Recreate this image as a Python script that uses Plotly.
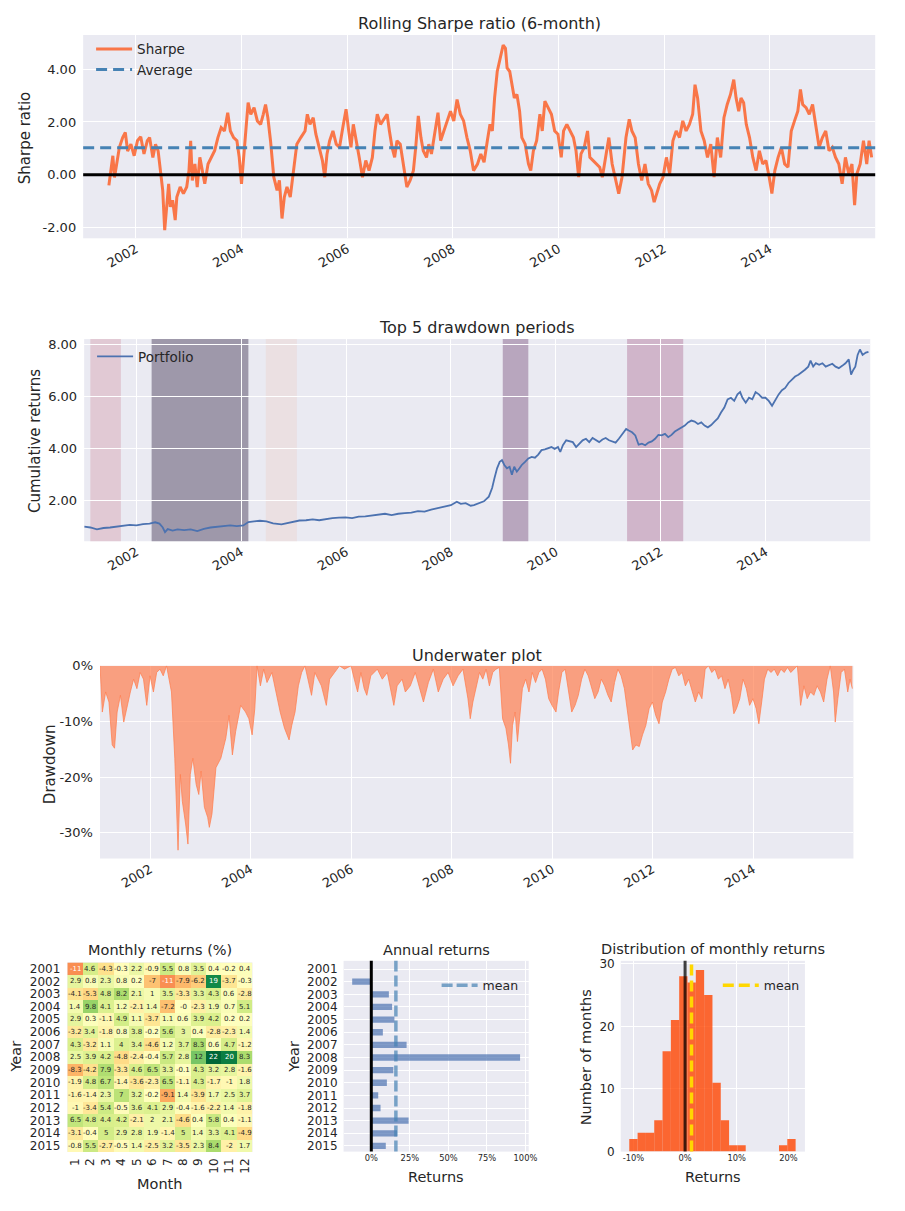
import numpy as np
import pandas as pd
import plotly.graph_objects as go
import plotly.express as px
from plotly.colors import sample_colorscale

W, H = 905, 1211
FONT = "DejaVu Sans"
INK = "#262626"
PANEL = "#EAEAF2"

# ---------------- data ----------------
# rolling 6-month Sharpe ratio: (decimal year, value)
sharpe_points = [
    (2001.490, -0.40), (2001.534, 0.29), (2001.565, 0.72), (2001.596, -0.10), (2001.639, 0.40),
    (2001.689, 1.04), (2001.751, 1.41), (2001.801, 1.60), (2001.845, 0.90), (2001.907, 1.16),
    (2001.969, 0.72), (2002.031, 1.29), (2002.093, 1.44), (2002.155, 0.79), (2002.218, 1.29),
    (2002.261, 1.41), (2002.323, 0.66), (2002.373, 1.16), (2002.423, 0.90), (2002.466, 0.16),
    (2002.510, -0.59), (2002.547, -2.09), (2002.591, -0.84), (2002.622, -0.34), (2002.653, -1.21),
    (2002.697, -0.96), (2002.746, -1.71), (2002.777, -0.84), (2002.840, -0.46), (2002.902, -0.71),
    (2002.964, -0.46), (2003.007, 0.16), (2003.039, 1.29), (2003.070, -0.21), (2003.119, 0.41),
    (2003.163, -0.46), (2003.213, 0.66), (2003.256, 0.16), (2003.306, -0.34), (2003.368, 0.41),
    (2003.430, 0.66), (2003.493, 0.91), (2003.555, 1.41), (2003.617, 1.79), (2003.679, 1.66),
    (2003.741, 2.35), (2003.791, 1.66), (2003.853, 1.41), (2003.915, 1.29), (2003.959, 0.66),
    (2004.002, -0.34), (2004.040, 0.66), (2004.083, 1.91), (2004.127, 2.73), (2004.177, 2.29),
    (2004.239, 2.54), (2004.301, 2.04), (2004.363, 1.91), (2004.413, 2.29), (2004.456, 2.66),
    (2004.500, 2.16), (2004.550, 1.29), (2004.612, -0.09), (2004.674, -0.59), (2004.718, -0.21),
    (2004.767, -1.65), (2004.811, -0.84), (2004.861, -0.46), (2004.923, -0.84), (2004.985, 0.16),
    (2005.047, 1.16), (2005.122, 1.41), (2005.203, 1.66), (2005.246, 2.29), (2005.296, 1.91),
    (2005.358, 2.16), (2005.408, 1.54), (2005.470, 1.04), (2005.532, 0.54), (2005.576, -0.09),
    (2005.619, 0.79), (2005.669, 1.29), (2005.731, 1.66), (2005.794, 1.16), (2005.856, 1.04),
    (2005.918, 1.79), (2005.980, 2.48), (2006.030, 1.66), (2006.073, 1.04), (2006.117, 1.91),
    (2006.167, 1.41), (2006.229, 0.66), (2006.291, -0.09), (2006.353, 0.54), (2006.415, 0.16),
    (2006.478, 0.66), (2006.527, 1.66), (2006.571, 2.29), (2006.633, 1.91), (2006.695, 2.10),
    (2006.757, 2.29), (2006.801, 1.66), (2006.851, 1.04), (2006.900, 0.66), (2006.944, 1.29),
    (2007.006, 1.16), (2007.068, 0.41), (2007.131, -0.46), (2007.193, -0.21), (2007.255, 0.16),
    (2007.299, 1.04), (2007.348, 2.23), (2007.398, 1.41), (2007.442, 0.91), (2007.504, 0.66),
    (2007.547, 1.16), (2007.597, 0.79), (2007.659, 1.66), (2007.721, 2.35), (2007.771, 1.29),
    (2007.833, 1.66), (2007.896, 2.10), (2007.958, 2.41), (2008.020, 2.04), (2008.082, 2.85),
    (2008.144, 2.29), (2008.206, 2.04), (2008.269, 1.41), (2008.331, 0.91), (2008.393, 0.16),
    (2008.468, 0.41), (2008.530, 0.79), (2008.592, 0.48), (2008.654, 1.29), (2008.704, 1.91),
    (2008.748, 1.66), (2008.791, 2.91), (2008.841, 3.91), (2008.903, 4.54), (2008.953, 4.91),
    (2008.996, 4.79), (2009.027, 4.04), (2009.077, 3.91), (2009.121, 3.41), (2009.164, 2.91),
    (2009.214, 3.04), (2009.264, 2.41), (2009.307, 1.41), (2009.369, 1.16), (2009.432, 0.41),
    (2009.475, 0.16), (2009.525, 0.91), (2009.587, 1.29), (2009.649, 2.29), (2009.693, 1.66),
    (2009.743, 2.79), (2009.805, 2.54), (2009.867, 2.29), (2009.929, 1.66), (2009.991, 1.54),
    (2010.053, 0.66), (2010.097, 1.66), (2010.159, 1.91), (2010.221, 1.66), (2010.284, 1.41),
    (2010.333, 0.91), (2010.383, -0.09), (2010.427, 0.79), (2010.489, 1.04), (2010.551, 1.66),
    (2010.595, 0.66), (2010.657, 0.54), (2010.719, 0.41), (2010.781, 0.29), (2010.831, -0.09),
    (2010.893, 0.66), (2010.955, 1.41), (2011.017, 0.41), (2011.080, -0.21), (2011.142, -0.71),
    (2011.204, -0.09), (2011.279, 1.41), (2011.341, 2.10), (2011.391, 1.66), (2011.453, 1.41),
    (2011.515, 0.41), (2011.577, -0.21), (2011.639, 0.41), (2011.701, -0.34), (2011.764, -0.59),
    (2011.813, -1.03), (2011.857, -0.71), (2011.919, -0.34), (2011.981, -0.09), (2012.044, 0.66),
    (2012.106, 0.04), (2012.168, 1.29), (2012.230, 1.66), (2012.292, 1.41), (2012.354, 2.04),
    (2012.417, 1.66), (2012.479, 1.91), (2012.541, 2.29), (2012.585, 3.41), (2012.634, 2.91),
    (2012.697, 1.66), (2012.759, 1.29), (2012.821, 0.66), (2012.883, 1.16), (2012.945, -0.09),
    (2013.007, 1.41), (2013.070, 0.66), (2013.132, 2.16), (2013.194, 2.66), (2013.256, 3.04),
    (2013.318, 3.60), (2013.362, 2.91), (2013.412, 2.41), (2013.455, 2.91), (2013.505, 2.73),
    (2013.555, 1.91), (2013.617, 1.41), (2013.679, 0.66), (2013.741, 0.16), (2013.803, 0.91),
    (2013.866, 0.41), (2013.928, 0.54), (2013.990, -0.09), (2014.040, -0.71), (2014.096, 0.16),
    (2014.158, 0.66), (2014.220, 1.04), (2014.282, 0.41), (2014.345, 0.29), (2014.407, 1.66),
    (2014.469, 2.04), (2014.531, 2.41), (2014.581, 3.23), (2014.624, 2.66), (2014.687, 2.54),
    (2014.749, 2.29), (2014.811, 2.66), (2014.873, 1.91), (2014.935, 1.04), (2014.997, 1.41),
    (2015.060, 1.66), (2015.122, 0.91), (2015.184, 1.04), (2015.246, 0.66), (2015.308, 0.41),
    (2015.371, -0.34), (2015.433, 0.66), (2015.495, 0.04), (2015.557, 0.41), (2015.607, -1.15),
    (2015.650, 0.04), (2015.713, 0.41), (2015.775, 1.29), (2015.837, 0.41), (2015.881, 1.29),
    (2015.930, 0.66),
]
sharpe_average = 1.02

# cumulative returns of the portfolio: (decimal year, value)
cumulative_points = [
    (2001.005, 0.99), (2001.121, 0.96), (2001.246, 0.89), (2001.372, 0.94), (2001.497, 0.96),
    (2001.623, 0.99), (2001.749, 1.04), (2001.874, 1.06), (2002.000, 1.04), (2002.126, 1.09),
    (2002.251, 1.11), (2002.358, 1.16), (2002.440, 1.11), (2002.503, 0.96), (2002.546, 0.78),
    (2002.597, 0.90), (2002.691, 0.84), (2002.785, 0.89), (2002.911, 0.86), (2003.036, 0.89),
    (2003.162, 0.82), (2003.288, 0.91), (2003.413, 0.96), (2003.539, 0.99), (2003.665, 1.03),
    (2003.790, 1.04), (2003.916, 1.01), (2004.041, 1.04), (2004.136, 1.17), (2004.230, 1.19),
    (2004.355, 1.22), (2004.481, 1.20), (2004.607, 1.12), (2004.766, 1.08), (2004.884, 1.13),
    (2004.984, 1.19), (2005.109, 1.23), (2005.235, 1.24), (2005.361, 1.27), (2005.486, 1.24),
    (2005.612, 1.29), (2005.737, 1.32), (2005.863, 1.34), (2005.989, 1.35), (2006.114, 1.32),
    (2006.240, 1.38), (2006.366, 1.39), (2006.491, 1.43), (2006.617, 1.47), (2006.742, 1.49),
    (2006.868, 1.44), (2006.994, 1.49), (2007.119, 1.51), (2007.245, 1.53), (2007.371, 1.59),
    (2007.496, 1.57), (2007.622, 1.65), (2007.747, 1.70), (2007.873, 1.77), (2007.999, 1.82),
    (2008.112, 1.95), (2008.187, 1.87), (2008.281, 1.90), (2008.376, 1.80), (2008.438, 1.82),
    (2008.533, 1.90), (2008.627, 1.97), (2008.721, 2.15), (2008.784, 2.48), (2008.828, 2.86),
    (2008.878, 3.24), (2008.928, 3.49), (2008.972, 3.56), (2009.016, 3.37), (2009.067, 3.24),
    (2009.117, 3.30), (2009.161, 2.99), (2009.205, 3.30), (2009.255, 3.11), (2009.305, 3.24),
    (2009.349, 3.37), (2009.412, 3.49), (2009.475, 3.62), (2009.538, 3.68), (2009.601, 3.65),
    (2009.663, 3.77), (2009.726, 3.94), (2009.789, 3.97), (2009.852, 4.03), (2009.915, 4.06),
    (2009.977, 3.99), (2010.040, 4.06), (2010.084, 3.87), (2010.134, 4.13), (2010.197, 4.32),
    (2010.260, 4.28), (2010.323, 4.25), (2010.386, 4.06), (2010.449, 4.19), (2010.511, 4.32),
    (2010.574, 4.38), (2010.637, 4.25), (2010.700, 4.41), (2010.763, 4.32), (2010.826, 4.25),
    (2010.888, 4.35), (2010.951, 4.41), (2011.014, 4.32), (2011.077, 4.28), (2011.140, 4.23),
    (2011.202, 4.38), (2011.278, 4.61), (2011.341, 4.76), (2011.391, 4.70), (2011.454, 4.63),
    (2011.516, 4.51), (2011.579, 4.15), (2011.642, 4.19), (2011.705, 4.13), (2011.768, 4.23),
    (2011.830, 4.28), (2011.893, 4.38), (2011.956, 4.53), (2012.019, 4.51), (2012.082, 4.57),
    (2012.144, 4.44), (2012.207, 4.53), (2012.270, 4.66), (2012.333, 4.73), (2012.396, 4.82),
    (2012.459, 4.89), (2012.521, 5.01), (2012.584, 5.08), (2012.647, 5.04), (2012.710, 4.95),
    (2012.773, 5.01), (2012.835, 4.89), (2012.898, 4.82), (2012.961, 4.91), (2013.024, 5.04),
    (2013.087, 5.16), (2013.149, 5.39), (2013.212, 5.58), (2013.275, 5.90), (2013.338, 5.96),
    (2013.401, 5.84), (2013.463, 6.09), (2013.514, 6.18), (2013.558, 5.96), (2013.621, 5.77),
    (2013.683, 5.96), (2013.746, 5.90), (2013.809, 6.18), (2013.872, 6.09), (2013.935, 5.96),
    (2013.997, 5.96), (2014.060, 5.84), (2014.123, 5.65), (2014.186, 5.90), (2014.249, 6.09),
    (2014.312, 6.25), (2014.374, 6.34), (2014.437, 6.53), (2014.500, 6.66), (2014.563, 6.78),
    (2014.626, 6.85), (2014.688, 6.94), (2014.751, 7.04), (2014.814, 7.16), (2014.858, 7.39),
    (2014.908, 7.16), (2014.959, 7.29), (2015.021, 7.23), (2015.084, 7.29), (2015.147, 7.16),
    (2015.210, 7.23), (2015.273, 7.27), (2015.335, 7.16), (2015.398, 7.10), (2015.461, 7.19),
    (2015.524, 7.29), (2015.587, 7.44), (2015.631, 6.85), (2015.675, 7.04), (2015.712, 7.16),
    (2015.756, 7.61), (2015.800, 7.82), (2015.851, 7.61), (2015.913, 7.70), (2015.963, 7.73),
]

# top 5 drawdown periods (peak -> recovery), most severe first
drawdown_periods = [
    ("2002-04-17", "2004-02-20"),
    ("2008-12-27", "2009-06-23"),
    ("2011-05-12", "2012-06-06"),
    ("2001-02-14", "2001-09-15"),
    ("2004-06-20", "2005-01-23"),
]
drawdown_colors = ["#2d1e3e", "#6e4071", "#aa678f", "#d499a7", "#edd1cb"]

# underwater curve in percent: (decimal year, drawdown)
underwater_points = [
    (2001.004, 0.0), (2001.049, -8.3), (2001.115, -4.7), (2001.181, -6.5), (2001.246, -14.2),
    (2001.292, -14.8), (2001.344, -8.3), (2001.410, -5.3), (2001.476, -10.1), (2001.541, -7.1),
    (2001.607, -4.7), (2001.672, -2.4), (2001.738, -4.1), (2001.803, -1.2), (2001.869, -2.4),
    (2001.934, -7.1), (2002.000, -1.8), (2002.066, -4.7), (2002.131, -1.2), (2002.197, -0.6),
    (2002.262, -1.8), (2002.328, 0.0), (2002.426, -4.7), (2002.492, -16.6), (2002.524, -23.7),
    (2002.557, -33.1), (2002.603, -19.5), (2002.642, -24.3), (2002.708, -28.4), (2002.754, -32.0),
    (2002.800, -19.5), (2002.852, -16.6), (2002.918, -21.3), (2002.970, -23.1), (2003.016, -18.9),
    (2003.082, -25.4), (2003.147, -27.2), (2003.180, -29.0), (2003.232, -26.6), (2003.311, -18.3),
    (2003.409, -16.6), (2003.508, -13.0), (2003.573, -8.9), (2003.639, -16.0), (2003.704, -11.8),
    (2003.803, -7.1), (2003.901, -8.3), (2003.967, -9.5), (2004.032, -12.4), (2004.085, -7.7),
    (2004.130, 0.0), (2004.196, -3.6), (2004.262, -0.6), (2004.327, -3.0), (2004.425, -1.2),
    (2004.524, -5.9), (2004.589, -8.3), (2004.675, -11.2), (2004.766, -13.3), (2004.819, -10.7),
    (2004.884, -8.3), (2004.950, -3.6), (2005.015, -1.2), (2005.081, 0.0), (2005.147, -2.4),
    (2005.212, -5.3), (2005.278, -1.2), (2005.409, -3.6), (2005.507, -7.1), (2005.573, -2.4),
    (2005.671, -1.2), (2005.769, 0.0), (2005.868, -0.6), (2005.999, 0.0), (2006.064, -2.4),
    (2006.130, -4.7), (2006.195, -1.2), (2006.261, -4.1), (2006.313, -5.3), (2006.392, -1.8),
    (2006.523, -0.6), (2006.621, -2.4), (2006.720, -1.2), (2006.851, -7.1), (2006.916, -3.6),
    (2007.015, -2.4), (2007.080, -4.7), (2007.179, -3.6), (2007.277, -1.2), (2007.441, -6.5),
    (2007.539, -3.0), (2007.638, -0.6), (2007.736, -4.7), (2007.834, -2.4), (2007.932, -1.2),
    (2008.031, -3.6), (2008.129, -1.8), (2008.227, -0.6), (2008.326, -5.9), (2008.372, -9.5),
    (2008.424, -6.5), (2008.490, -4.1), (2008.555, -1.2), (2008.621, -2.4), (2008.687, -0.6),
    (2008.752, -3.6), (2008.818, -1.2), (2008.883, -0.6), (2008.949, -0.3), (2009.014, -9.5),
    (2009.080, -11.2), (2009.132, -14.2), (2009.172, -17.5), (2009.211, -10.7), (2009.264, -8.3),
    (2009.310, -13.6), (2009.356, -9.5), (2009.408, -4.1), (2009.473, -2.4), (2009.539, -4.7),
    (2009.605, -1.2), (2009.670, -3.0), (2009.736, -1.2), (2009.801, -0.6), (2009.867, -2.4),
    (2009.932, -5.9), (2009.998, -7.1), (2010.077, -8.3), (2010.129, -4.7), (2010.194, -1.2),
    (2010.260, -0.6), (2010.325, -4.7), (2010.391, -8.3), (2010.457, -7.1), (2010.522, -5.3),
    (2010.588, -2.4), (2010.653, -0.6), (2010.719, -1.8), (2010.784, -4.1), (2010.850, -5.9),
    (2010.915, -4.7), (2010.981, -2.4), (2011.046, -3.6), (2011.112, -5.3), (2011.177, -6.5),
    (2011.243, -3.0), (2011.309, -0.6), (2011.374, -1.8), (2011.440, -4.1), (2011.505, -8.3),
    (2011.558, -11.8), (2011.604, -15.1), (2011.669, -14.2), (2011.735, -14.5), (2011.800, -12.4),
    (2011.866, -10.7), (2011.931, -7.7), (2011.997, -6.5), (2012.062, -8.9), (2012.128, -10.4),
    (2012.193, -6.5), (2012.259, -4.7), (2012.324, -2.4), (2012.390, -0.6), (2012.455, -0.3),
    (2012.521, -1.8), (2012.587, -1.2), (2012.652, -3.6), (2012.718, -2.4), (2012.783, -4.7),
    (2012.849, -6.5), (2012.914, -4.7), (2012.980, -5.9), (2013.045, -0.6), (2013.111, 0.0),
    (2013.177, -1.2), (2013.242, -0.6), (2013.308, -2.4), (2013.373, -1.8), (2013.439, -4.1),
    (2013.504, -2.4), (2013.570, -5.3), (2013.616, -8.6), (2013.668, -7.7), (2013.734, -5.9),
    (2013.799, -2.4), (2013.865, -4.1), (2013.930, -7.1), (2013.996, -5.9), (2014.061, -7.7),
    (2014.114, -10.4), (2014.179, -5.9), (2014.225, -2.4), (2014.291, -0.6), (2014.356, -1.2),
    (2014.422, -0.6), (2014.488, -1.8), (2014.553, -0.6), (2014.619, -1.2), (2014.684, -0.3),
    (2014.750, -1.2), (2014.815, -0.6), (2014.881, 0.0), (2014.946, -7.1), (2015.012, -3.6),
    (2015.077, -5.9), (2015.143, -4.7), (2015.209, -5.3), (2015.274, -3.6), (2015.340, -4.7),
    (2015.405, -6.5), (2015.471, -2.4), (2015.536, 0.0), (2015.602, -4.7), (2015.635, -10.1),
    (2015.687, -5.9), (2015.753, -1.2), (2015.818, -0.6), (2015.884, -4.7), (2015.930, -2.4),
    (2015.976, -4.1),
]

# monthly returns (%) by year, January..December
years = [2001, 2002, 2003, 2004, 2005, 2006, 2007, 2008, 2009, 2010, 2011, 2012, 2013, 2014, 2015]
months = [1, 2, 3, 4, 5, 6, 7, 8, 9, 10, 11, 12]
monthly_returns = [
    [-11, 4.6, -4.3, -0.3, 2.2, -0.9, 5.5, 0.8, 3.5, 0.4, -0.2, 0.4],
    [2.9, 0.8, 2.3, 0.8, 0.2, -7, -11, -7.9, -6.2, 19, -3.7, -0.3],
    [-4.1, -5.3, 4.8, 8.2, 2.1, 1, 3.5, -3.3, 3.3, 4.3, 0.6, -2.8],
    [1.4, 9.8, 4.1, 1.2, -2.1, 1.4, -7.2, -0.0, -2.3, 1.9, 0.7, 5.1],
    [2.9, 0.3, -1.1, 4.9, 1.1, -3.7, 1.1, 0.6, 3.9, 4.2, 0.2, 0.2],
    [-3.2, 3.4, -1.8, 0.8, 3.8, -0.2, 5.6, 3, 0.4, -2.8, -2.3, 1.4],
    [4.3, -3.2, 1.1, 4, 3.4, -4.6, 1.2, 3.7, 8.3, 0.6, 4.7, -1.2],
    [2.5, 3.9, 4.2, -4.8, -2.4, -0.4, 5.7, 2.8, 12, 22, 20, 8.3],
    [-8.3, -4.2, 7.9, -3.3, 4.6, 6.5, 3.3, -0.1, 4.3, 3.2, 2.8, -1.6],
    [-1.9, 4.8, 6.7, -1.4, -3.6, -2.3, 6.5, -1.1, 4.3, -1.7, -1, 1.8],
    [-1.6, -1.4, 2.3, 7, 3.2, -0.2, -9.1, 1.4, -3.9, 1.7, 2.5, 3.7],
    [-1, -3.4, 5.4, -0.5, 3.6, 4.1, 2.9, -0.4, -1.6, -2.2, 1.4, -1.8],
    [6.5, 4.8, 4.4, 4.2, -2.1, 2, 2.1, -4.6, 0.4, 5.8, 0.4, -1.1],
    [-3.1, -0.4, 5, 2.9, 2.8, 1.9, -1.4, 5, 1.4, 3.3, 4.1, -4.9],
    [-0.8, 5.5, -2.7, -0.5, 1.4, -2.5, 3.2, -3.5, 2.3, 8.4, -2, 1.7],
]

# annual returns (%)
annual_returns = [-0.4, -12.4, 11.4, 13.5, 15.0, 7.5, 22.9, 96.5, 14.3, 10.1, 4.5, 6.0, 24.2, 16.7, 9.4]

# histogram of monthly returns (%): 20 equal bins
hist_start = -10.8
hist_width = 1.61
hist_counts = [2, 3, 3, 5, 16, 21, 28, 27, 29, 25, 11, 5, 1, 1, 0, 0, 0, 0, 1, 2]

# tick labels
date_tick_years = [2002, 2004, 2006, 2008, 2010, 2012, 2014]
sharpe_ticks = [-2, 0, 2, 4]
cumulative_ticks = [2, 4, 6, 8]
underwater_ticks = [0, -10, -20, -30]
annual_ticks = [0, 25, 50, 75, 100]
dist_x_ticks = [-10, 0, 10, 20]
dist_y_ticks = [0, 10, 20, 30]

DATE_RANGE = ["2001-01-02", "2015-12-31"]


def to_dates(values):
    out = []
    for t in values:
        y = int(np.floor(t))
        a = pd.Timestamp(year=y, month=1, day=1)
        b = pd.Timestamp(year=y + 1, month=1, day=1)
        out.append(a + (b - a) * (t - y))
    return out


def fx(p):
    return p / W


def fy(p):
    return 1 - p / H


def axis(domain, **kw):
    base = dict(domain=domain, showgrid=True, gridcolor="white", gridwidth=1,
                zeroline=False, showline=False, ticks="",
                tickfont=dict(family=FONT, size=13, color=INK))
    base.update(kw)
    return base


fig = go.Figure()

# ---- rolling Sharpe ----
s_t, s_v = zip(*sharpe_points)
fig.add_trace(go.Scatter(x=to_dates(s_t), y=list(s_v), mode="lines", name="Sharpe",
                         line=dict(color="rgba(255,69,0,0.7)", width=3),
                         xaxis="x", yaxis="y", legend="legend", legendrank=1,
                         hoverinfo="skip"))

# ---- cumulative returns ----
c_t, c_v = zip(*cumulative_points)
fig.add_trace(go.Scatter(x=to_dates(c_t), y=list(c_v), mode="lines", name="Portfolio",
                         line=dict(color="#4c72b0", width=1.8),
                         xaxis="x2", yaxis="y2", legend="legend2", hoverinfo="skip"))

# ---- underwater ----
u_t, u_v = zip(*underwater_points)
fig.add_trace(go.Scatter(x=to_dates(u_t), y=list(u_v), mode="lines", fill="tozeroy",
                         fillcolor="rgba(255,127,80,0.7)",
                         line=dict(color="rgba(255,127,80,0.75)", width=1),
                         showlegend=False, xaxis="x3", yaxis="y3", hoverinfo="skip"))

# ---- monthly heatmap ----
z = np.array(monthly_returns, dtype=float)
vrange = max(abs(z.min()), abs(z.max()))
rdylgn = px.colors.diverging.RdYlGn
cscale = [[i / (len(rdylgn) - 1), c] for i, c in enumerate(rdylgn)]
fig.add_trace(go.Heatmap(z=z, x=months, y=years, colorscale=cscale,
                         zmin=-vrange, zmax=vrange, showscale=False,
                         xaxis="x4", yaxis="y4", hoverinfo="skip"))

# ---- annual returns ----
fig.add_trace(go.Bar(x=annual_returns, y=years, orientation="h",
                     width=0.5, marker=dict(color="rgba(76,114,176,0.7)", line=dict(width=0)),
                     showlegend=False, xaxis="x5", yaxis="y5", hoverinfo="skip"))

# ---- distribution of monthly returns ----
centers = [hist_start + hist_width * (i + 0.5) for i in range(len(hist_counts))]
fig.add_trace(go.Bar(x=centers, y=hist_counts, width=hist_width,
                     marker=dict(color="rgba(255,69,0,0.8)", line=dict(width=0)),
                     showlegend=False, xaxis="x6", yaxis="y6", hoverinfo="skip"))

shapes = []
# drawdown period spans
for (start, end), col in zip(drawdown_periods, drawdown_colors):
    r, g, b = (int(col[i:i + 2], 16) for i in (1, 3, 5))
    shapes.append(dict(type="rect", xref="x2", yref="y2 domain", x0=start, x1=end, y0=0, y1=1,
                       fillcolor=f"rgba({r},{g},{b},0.4)", line=dict(width=0), layer="below"))

# Sharpe average and zero lines
shapes.append(dict(type="line", xref="x domain", yref="y", x0=0, x1=1,
                   y0=sharpe_average, y1=sharpe_average,
                   line=dict(color="steelblue", width=3, dash="11px,6px"),
                   showlegend=True, name="Average", legend="legend", legendrank=2))
shapes.append(dict(type="line", xref="x domain", yref="y", x0=0, x1=1, y0=0, y1=0,
                   line=dict(color="black", width=3)))

# annual: zero line and mean
annual_mean = float(np.mean(annual_returns))
shapes.append(dict(type="line", xref="x5", yref="y5 domain", x0=0, x1=0, y0=0, y1=1,
                   line=dict(color="black", width=3)))
shapes.append(dict(type="line", xref="x5", yref="y5 domain", x0=annual_mean, x1=annual_mean,
                   y0=0, y1=1, line=dict(color="rgba(70,130,180,0.7)", width=3.5, dash="11px,4px"),
                   showlegend=True, name="mean", legend="legend3"))

# distribution: zero line and mean
monthly_mean = float(np.mean(z))
shapes.append(dict(type="line", xref="x6", yref="y6 domain", x0=0, x1=0, y0=0, y1=1,
                   line=dict(color="rgba(0,0,0,0.75)", width=3)))
shapes.append(dict(type="line", xref="x6", yref="y6 domain", x0=monthly_mean, x1=monthly_mean,
                   y0=0, y1=1, line=dict(color="gold", width=3.5, dash="11px,5px"),
                   showlegend=True, name="mean", legend="legend4"))

annotations = []


def label(text, x, y, size, angle=0, **kw):
    annotations.append(dict(text=text, x=fx(x), y=fy(y), xref="paper", yref="paper",
                            showarrow=False, textangle=angle, xanchor="center", yanchor="middle",
                            font=dict(family=FONT, size=size, color=INK), **kw))


# panel titles
label("Rolling Sharpe ratio (6-month)", 484, 17, 16)
label("Top 5 drawdown periods", 482, 324, 16)
label("Underwater plot", 481.5, 656, 16)
label("Monthly returns (%)", 161.5, 954.5, 14.5)
label("Annual returns", 440.5, 954, 14.5)
label("Distribution of monthly returns", 720, 953, 14.5)
# axis titles
label("Sharpe ratio", 26, 132, 15, -90)
label("Cumulative returns", 35.5, 439, 15, -90)
label("Drawdown", 50.5, 766, 15, -90)
label("Year", 16, 1062, 14.5, -90)
label("Month", 161.5, 1191, 14.5)
label("Year", 297, 1062, 14.5, -90)
label("Returns", 440.5, 1184, 14.5)
label("Number of months", 591.5, 1063, 14.5, -90)
label("Returns", 720, 1184, 14.5)


# cell values of the monthly heatmap, coloured for contrast
def luminance(rgb):
    c = np.array(rgb) / 255.0
    c = np.where(c <= 0.03928, c / 12.92, ((c + 0.055) / 1.055) ** 2.4)
    return 0.2126 * c[0] + 0.7152 * c[1] + 0.0722 * c[2]


for i, yr in enumerate(years):
    for j, m in enumerate(months):
        v = monthly_returns[i][j]
        col = sample_colorscale(cscale, [(v + vrange) / (2 * vrange)])[0]
        rgb = [float(p) for p in col[col.index("(") + 1:-1].split(",")]
        txt_col = INK if luminance(rgb) > 0.408 else "white"
        annotations.append(dict(text=format(v, ".2g"), x=m, y=yr, xref="x4", yref="y4",
                                showarrow=False, xanchor="center", yanchor="middle",
                                font=dict(family=FONT, size=7, color=txt_col)))

date_ticks = dict(tickmode="array", tickvals=[f"{y}-01-01" for y in date_tick_years],
                  ticktext=[str(y) for y in date_tick_years], tickangle=-30)

legend_style = dict(bgcolor="rgba(0,0,0,0)", borderwidth=0, xanchor="left", yanchor="top",
                    font=dict(family=FONT, size=13.5, color=INK), itemwidth=36)
small_legend = {**legend_style, "font": dict(family=FONT, size=12.5, color=INK)}

fig.update_layout(
    width=W, height=H, margin=dict(l=0, r=0, t=0, b=0),
    paper_bgcolor="white", plot_bgcolor=PANEL,
    font=dict(family=FONT, color=INK),
    barmode="overlay",
    xaxis=axis([fx(84), fx(884)], type="date", range=DATE_RANGE, anchor="y", **date_ticks),
    yaxis=axis([fy(234), fy(28.3)], range=[-2.40, 5.29], anchor="x", tickmode="array",
               tickvals=sharpe_ticks, ticktext=[f"{v:.2f}" for v in sharpe_ticks],
               ticklabelstandoff=6),
    xaxis2=axis([fx(85), fx(879)], type="date", range=DATE_RANGE, anchor="y2", **date_ticks),
    yaxis2=axis([fy(540.5), fy(336)], range=[0.43, 8.22], anchor="x2", tickmode="array",
                tickvals=cumulative_ticks, ticktext=[f"{v:.2f}" for v in cumulative_ticks],
                ticklabelstandoff=6),
    xaxis3=axis([fx(101), fx(862)], type="date", range=DATE_RANGE, anchor="y3", **date_ticks),
    yaxis3=axis([fy(861.5), fy(666.5)], range=[-34.6, 0], anchor="x3", tickmode="array",
                tickvals=underwater_ticks, ticktext=[f"{v}%" for v in underwater_ticks],
                ticklabelstandoff=6),
    xaxis4=axis([fx(68), fx(255)], range=[0.5, 12.5], anchor="y4", showgrid=False,
                tickmode="array", tickvals=months, ticktext=[str(m) for m in months],
                tickangle=-90, ticklabelstandoff=3,
                tickfont=dict(family=FONT, size=12, color=INK)),
    yaxis4=axis([fy(1158.4), fy(966.6)], range=[2015.5, 2000.5], anchor="x4", showgrid=False,
                tickmode="array", tickvals=years, ticktext=[str(y) for y in years],
                ticklabelstandoff=6, tickfont=dict(family=FONT, size=12, color=INK)),
    xaxis5=axis([fx(347), fx(534)], range=[-18, 102.1], anchor="y5", tickmode="array",
                tickvals=annual_ticks, ticktext=[f"{v}%" for v in annual_ticks],
                tickfont=dict(family=FONT, size=8.3, color=INK)),
    yaxis5=axis([fy(1158), fy(965)], range=[2015.45, 2000.35], anchor="x5",
                tickmode="array", tickvals=years, ticktext=[str(y) for y in years],
                ticklabelstandoff=5, tickfont=dict(family=FONT, size=12, color=INK)),
    xaxis6=axis([fx(627), fx(813)], range=[-12.45, 23.2], anchor="y6", tickmode="array",
                tickvals=dist_x_ticks, ticktext=[f"{v}%" for v in dist_x_ticks],
                tickfont=dict(family=FONT, size=8.3, color=INK)),
    yaxis6=axis([fy(1158), fy(965)], range=[0, 30.45], anchor="x6", tickmode="array",
                tickvals=dist_y_ticks, ticktext=[str(v) for v in dist_y_ticks],
                ticklabelstandoff=5, tickfont=dict(family=FONT, size=12, color=INK)),
    legend=dict(x=fx(92), y=fy(27), **legend_style),
    legend2=dict(x=fx(93), y=fy(338), **legend_style),
    legend3=dict(x=fx(441), y=fy(975), **small_legend),
    legend4=dict(x=fx(725), y=fy(975), **small_legend),
    shapes=shapes,
    annotations=annotations,
)

fig.write_html("out.html")
